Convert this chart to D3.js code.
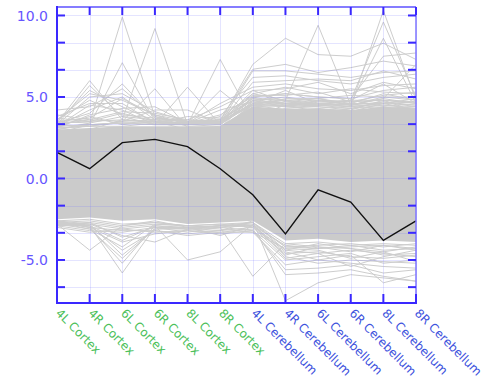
<!DOCTYPE html>
<html>
<head>
<meta charset="utf-8">
<script src="https://cdn.jsdelivr.net/npm/d3@7"></script>
<style>
  body { margin: 0; background: #fff; }
  svg { display: block; }
</style>
</head>
<body>
<div id="chart"></div>
<script>
// categories along the x axis
var categories = ["4L Cortex", "4R Cortex", "6L Cortex", "6R Cortex", "8L Cortex", "8R Cortex",
  "4L Cerebellum", "4R Cerebellum", "6L Cerebellum", "6R Cerebellum", "8L Cerebellum", "8R Cerebellum"];
var tissue = ["Cortex", "Cortex", "Cortex", "Cortex", "Cortex", "Cortex",
  "Cerebellum", "Cerebellum", "Cerebellum", "Cerebellum", "Cerebellum", "Cerebellum"];

// highlighted profile (black)
var highlight = [1.6, 0.6, 2.2, 2.4, 1.95, 0.6, -1.0, -3.4, -0.7, -1.45, -3.8, -2.6];

// dense core of the gray profiles (upper / lower envelope)
var coreHi = [3.0, 3.1, 3.2, 3.2, 3.2, 3.2, 4.4, 4.3, 4.3, 4.2, 4.4, 4.3];
var coreLo = [-2.5, -2.4, -2.6, -2.5, -2.8, -2.7, -2.6, -3.8, -3.7, -3.9, -3.8, -3.9];

// individual gray profiles outside the core
var upperLines = [
  [3.0, 3.4, 9.9, 3.8, 3.2, 3.3, 5.0, 4.6, 4.4, 4.2, 4.8, 4.1],
  [2.8, 3.3, 7.1, 3.5, 3.0, 3.1, 4.5, 4.2, 4.0, 4.3, 4.4, 4.0],
  [2.9, 3.0, 3.6, 9.2, 3.3, 3.4, 4.8, 4.4, 4.3, 4.1, 4.6, 4.2],
  [3.1, 3.2, 3.5, 5.5, 3.1, 3.2, 4.4, 4.1, 4.2, 3.9, 4.2, 4.0],
  [3.0, 3.3, 3.4, 3.3, 5.6, 3.3, 4.6, 4.5, 4.1, 4.0, 4.4, 4.3],
  [3.3, 3.2, 3.5, 4.2, 4.2, 3.4, 5.2, 4.8, 4.6, 4.5, 4.9, 4.6],
  [3.1, 3.2, 3.2, 3.4, 3.3, 7.3, 3.6, 4.3, 4.5, 4.4, 4.6, 4.5],
  [3.2, 3.3, 3.4, 3.5, 3.4, 5.4, 3.8, 4.5, 4.4, 4.3, 4.7, 4.4],
  [3.9, 3.6, 4.1, 4.0, 3.6, 3.5, 7.0, 8.6, 7.6, 7.5, 8.3, 7.3],
  [3.6, 4.8, 3.9, 3.7, 3.5, 3.4, 6.6, 6.6, 6.4, 6.2, 6.5, 6.6],
  [3.4, 6.0, 3.6, 3.5, 3.4, 3.6, 6.7, 7.0, 6.5, 6.8, 7.2, 6.9],
  [3.5, 5.4, 4.4, 3.5, 3.3, 3.8, 6.2, 6.3, 6.0, 5.8, 6.2, 6.4],
  [3.3, 5.0, 5.2, 4.1, 3.5, 3.4, 5.9, 6.0, 6.1, 6.0, 6.6, 6.1],
  [4.2, 4.4, 5.5, 3.8, 3.4, 4.6, 5.6, 5.8, 5.5, 5.4, 5.7, 5.8],
  [3.2, 4.2, 5.0, 3.6, 3.6, 4.4, 5.4, 5.5, 5.9, 5.2, 5.9, 5.5],
  [3.8, 4.6, 4.6, 3.4, 3.8, 3.7, 5.2, 5.6, 5.2, 5.5, 5.3, 5.2],
  [3.1, 3.9, 4.3, 4.4, 3.4, 3.9, 5.0, 5.2, 5.0, 4.9, 5.4, 5.6],
  [3.6, 5.2, 4.8, 3.9, 3.3, 3.5, 4.9, 4.8, 4.9, 5.1, 5.0, 5.0],
  [3.4, 4.0, 5.8, 3.7, 3.5, 3.6, 4.8, 5.0, 4.7, 4.6, 5.2, 4.8],
  [3.7, 3.5, 4.0, 3.5, 3.4, 4.2, 4.7, 4.6, 4.8, 4.7, 4.8, 4.7],
  [3.2, 4.5, 4.2, 3.3, 3.3, 3.5, 4.6, 5.4, 4.6, 4.4, 4.6, 4.9],
  [3.5, 3.7, 4.9, 3.9, 3.5, 3.4, 5.4, 4.7, 4.5, 4.8, 5.8, 4.6],
  [3.3, 5.7, 3.8, 3.6, 3.3, 3.6, 5.1, 5.1, 5.3, 4.7, 5.1, 5.3],
  [3.2, 3.3, 3.4, 3.3, 3.3, 3.4, 4.5, 4.4, 4.5, 4.3, 4.5, 4.4],
  [3.4, 3.5, 3.6, 3.4, 3.4, 3.3, 4.7, 4.6, 4.6, 4.5, 4.7, 4.5],
  [3.3, 3.6, 3.5, 3.6, 3.5, 3.5, 4.6, 4.8, 4.5, 4.6, 4.6, 4.7],
  [3.5, 3.4, 3.8, 3.3, 3.5, 3.6, 4.9, 4.5, 4.7, 4.8, 4.8, 4.6],
  [3.2, 3.8, 3.3, 3.5, 3.3, 3.5, 4.5, 4.9, 4.9, 4.5, 5.0, 4.8],
  [2.5, 2.8, 2.9, 3.0, 2.9, 2.8, 4.6, 4.8, 9.4, 4.5, 4.5, 4.3],
  [2.6, 2.7, 3.0, 2.8, 2.7, 2.9, 4.4, 4.5, 4.6, 4.4, 10.3, 4.8],
  [2.7, 2.6, 2.8, 2.9, 2.8, 2.7, 4.8, 4.6, 4.5, 4.8, 9.6, 5.0],
  [2.9, 2.8, 2.7, 2.8, 2.9, 3.0, 4.5, 4.7, 4.9, 4.6, 8.6, 4.6],
  [2.8, 2.9, 3.1, 3.0, 3.0, 3.1, 5.0, 5.2, 5.0, 4.9, 7.5, 7.7],
  [2.6, 2.8, 2.9, 2.8, 2.8, 2.9, 4.6, 4.4, 4.8, 4.5, 4.9, 7.0]
];
var lowerLines = [
  [-2.8, -4.4, -2.9, -2.7, -2.9, -2.8, -3.0, -4.6, -4.5, -4.8, -4.9, -4.7],
  [-2.7, -2.9, -5.8, -3.0, -3.1, -3.0, -3.2, -5.0, -4.8, -4.6, -5.2, -5.0],
  [-2.6, -3.0, -5.2, -2.9, -3.0, -2.9, -2.9, -4.4, -4.6, -4.4, -4.6, -4.8],
  [-2.9, -2.8, -4.7, -3.1, -3.0, -3.1, -3.3, -5.3, -5.0, -5.2, -5.4, -5.5],
  [-2.7, -3.1, -4.2, -2.8, -2.9, -3.0, -2.7, -4.2, -4.3, -4.1, -4.4, -4.3],
  [-2.8, -2.9, -3.8, -2.9, -5.0, -4.5, -2.8, -4.8, -5.2, -5.0, -5.1, -5.2],
  [-2.6, -2.8, -3.5, -3.9, -3.1, -3.2, -2.6, -7.5, -6.4, -5.9, -6.1, -6.3],
  [-2.9, -3.2, -3.3, -3.0, -3.3, -3.0, -6.0, -4.0, -4.2, -4.5, -4.1, -4.3],
  [-3.0, -3.3, -3.1, -3.3, -3.2, -3.4, -3.2, -5.6, -5.5, -5.3, -5.8, -5.6],
  [-2.7, -3.0, -3.9, -3.4, -3.2, -3.3, -3.1, -5.9, -5.8, -5.6, -6.0, -6.3],
  [-2.8, -2.9, -4.4, -3.2, -3.4, -3.2, -3.0, -4.9, -4.6, -5.4, -4.8, -4.4],
  [-2.9, -2.7, -3.6, -3.0, -3.0, -3.5, -2.9, -4.5, -5.0, -4.7, -6.4, -5.9],
  [-2.6, -3.0, -3.2, -3.2, -3.5, -3.3, -3.3, -4.3, -4.4, -4.9, -4.5, -5.1],
  [-2.8, -3.1, -4.9, -3.1, -3.1, -2.9, -2.9, -4.7, -4.2, -4.3, -4.7, -4.6],
  [-2.6, -2.5, -2.8, -2.7, -2.9, -2.8, -2.7, -4.0, -3.9, -4.1, -4.0, -4.1],
  [-2.7, -2.6, -2.9, -2.6, -3.0, -2.9, -2.8, -4.2, -4.1, -4.0, -4.2, -4.0],
  [-2.8, -2.7, -3.0, -2.8, -2.9, -3.0, -2.9, -4.1, -4.3, -4.2, -4.1, -4.4],
  [-2.7, -2.8, -3.1, -2.9, -3.1, -2.9, -2.7, -4.4, -4.0, -4.3, -4.5, -4.2]
];

// y tick values and labels
var yTicks = [-20/3, -5, -10/3, -5/3, 0, 5/3, 10/3, 5, 20/3, 25/3, 10];
var yLabels = [-5, 0, 5, 10];

var W = 488, H = 387;
var margin = { top: 7, right: 72, bottom: 84, left: 57 };
var x0 = margin.left, x1 = W - margin.right, y0 = margin.top, y1 = H - margin.bottom;

var axisColor = "#3a28ff";

var svg = d3.select("#chart").append("svg")
  .attr("width", W).attr("height", H)
  .style("font-family", "'DejaVu Sans', sans-serif");

var x = d3.scalePoint().domain(categories).range([x0, x1]);
var y = d3.scaleLinear().domain([-7.64, 10.52]).range([y1, y0]);

var line = d3.line()
  .x(function (d, i) { return x(categories[i]); })
  .y(function (d) { return y(d); });

// gray profiles
svg.append("g").selectAll("path")
  .data(upperLines.concat(lowerLines))
  .join("path")
  .attr("d", line)
  .attr("fill", "none")
  .attr("stroke", "#cdcdcd")
  .attr("stroke-width", 1);

var area = d3.area()
  .x(function (d, i) { return x(categories[i]); })
  .y0(function (d, i) { return y(coreLo[i]); })
  .y1(function (d) { return y(d); });

svg.append("path")
  .datum(coreHi)
  .attr("d", area)
  .attr("fill", "#cbcbcb");

// grid
var grid = svg.append("g").attr("stroke", "rgba(120,120,255,0.2)").attr("stroke-width", 1);
grid.selectAll("line.h").data(yTicks).join("line")
  .attr("x1", x0).attr("x2", x1)
  .attr("y1", function (d) { return Math.round(y(d)) + 0.5; })
  .attr("y2", function (d) { return Math.round(y(d)) + 0.5; });
grid.selectAll("line.v").data(categories).join("line")
  .attr("y1", y0).attr("y2", y1)
  .attr("x1", function (d) { return Math.round(x(d)) + 0.5; })
  .attr("x2", function (d) { return Math.round(x(d)) + 0.5; });

// highlighted profile
svg.append("path")
  .datum(highlight)
  .attr("d", line)
  .attr("fill", "none")
  .attr("stroke", "#111")
  .attr("stroke-width", 1.4);

// frame
svg.append("line").attr("x1", x0).attr("x2", x1).attr("y1", y0).attr("y2", y0)
  .attr("stroke", "#5d50ff").attr("stroke-width", 1.5);
svg.append("line").attr("x1", x1).attr("x2", x1).attr("y1", y0).attr("y2", y1)
  .attr("stroke", "#7e74ff").attr("stroke-width", 1.5);
svg.append("line").attr("x1", x0).attr("x2", x0).attr("y1", y0 - 1).attr("y2", y1 + 1)
  .attr("stroke", axisColor).attr("stroke-width", 2);
svg.append("line").attr("x1", x0).attr("x2", x1 + 1).attr("y1", y1).attr("y2", y1)
  .attr("stroke", axisColor).attr("stroke-width", 2);

// ticks
var ticks = svg.append("g").attr("stroke", axisColor).attr("stroke-width", 2);
ticks.selectAll("line.l").data(yTicks).join("line")
  .attr("x1", x0).attr("x2", x0 + 8)
  .attr("y1", function (d) { return y(d); }).attr("y2", function (d) { return y(d); });
ticks.selectAll("line.r").data(yTicks).join("line")
  .attr("x1", x1).attr("x2", x1 - 8)
  .attr("y1", function (d) { return y(d); }).attr("y2", function (d) { return y(d); });
ticks.selectAll("line.t").data(categories).join("line")
  .attr("x1", function (d) { return x(d); }).attr("x2", function (d) { return x(d); })
  .attr("y1", y0).attr("y2", y0 + 8);
ticks.selectAll("line.b").data(categories).join("line")
  .attr("x1", function (d) { return x(d); }).attr("x2", function (d) { return x(d); })
  .attr("y1", y1).attr("y2", y1 - 9);

// y labels
svg.append("g").selectAll("text").data(yLabels).join("text")
  .attr("x", x0 - 9)
  .attr("y", function (d) { return y(d); })
  .attr("dy", "0.36em")
  .attr("text-anchor", "end")
  .attr("fill", "#6655ff")
  .attr("font-size", 14)
  .text(function (d) { return d3.format(".1f")(d).replace("\u2212", "-"); });

// x labels
svg.append("g").selectAll("text").data(categories).join("text")
  .attr("transform", function (d) { return "translate(" + (x(d) + 1) + "," + (y1 + 8) + ") rotate(45)"; })
  .attr("text-anchor", "start")
  .attr("dy", "0.35em")
  .attr("font-size", 12)
  .attr("fill", function (d, i) { return tissue[i] === "Cortex" ? "#4cbf5a" : "#3d52dd"; })
  .text(function (d) { return d; });
</script>
</body>
</html>
